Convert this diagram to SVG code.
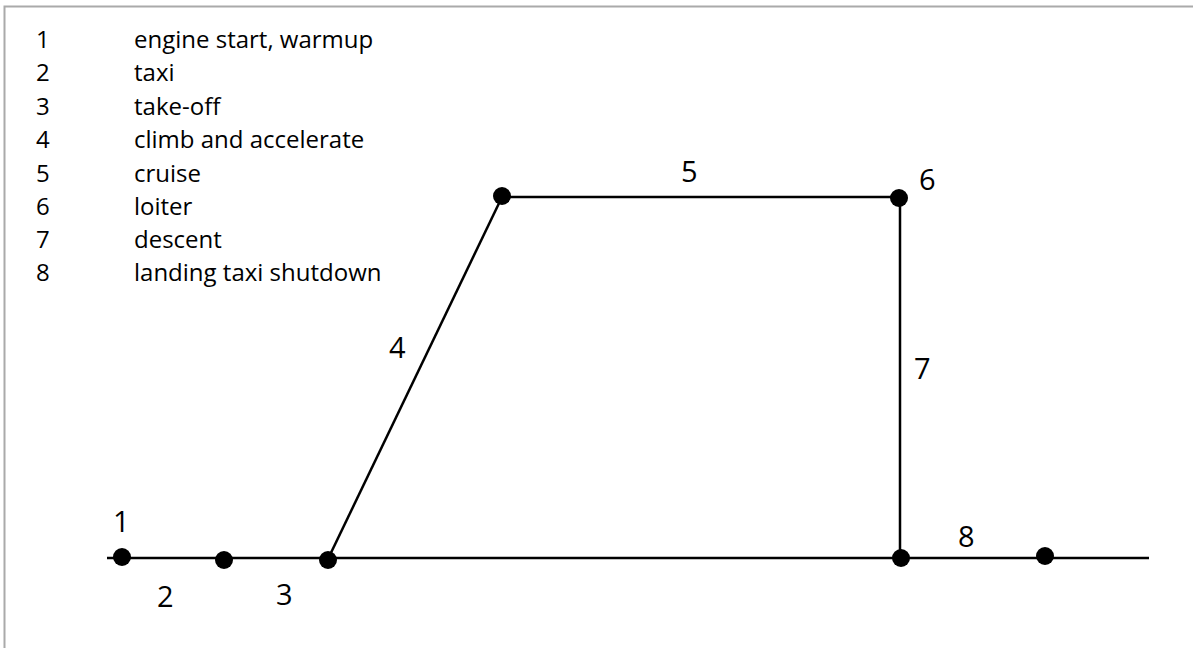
<svg xmlns="http://www.w3.org/2000/svg" width="1193" height="648" viewBox="0 0 1193 648">
<style>
.leg{font-family:"Open Sans","Liberation Sans",sans-serif;font-size:24px;fill:#000}
.lbl{font-family:"Open Sans","Liberation Sans",sans-serif;font-size:29px;fill:#000}
.ln{stroke:#000;stroke-width:2.5;fill:none}
.dot{fill:#000}
</style>
<rect width="1193" height="648" fill="#fff"/>
<path d="M4.5,648 V6.5 H1193" stroke="#aaa" stroke-width="2" fill="none"/>
<g id="legend">
<text class="leg" x="36" y="48">1</text><text class="leg" x="134" y="48">engine start, warmup</text>
<text class="leg" x="36" y="81">2</text><text class="leg" x="134" y="81">taxi</text>
<text class="leg" x="36" y="115">3</text><text class="leg" x="134" y="115">take-off</text>
<text class="leg" x="36" y="148">4</text><text class="leg" x="134" y="148">climb and accelerate</text>
<text class="leg" x="36" y="182">5</text><text class="leg" x="134" y="182">cruise</text>
<text class="leg" x="36" y="215">6</text><text class="leg" x="134" y="215">loiter</text>
<text class="leg" x="36" y="248">7</text><text class="leg" x="134" y="248">descent</text>
<text class="leg" x="36" y="281">8</text><text class="leg" x="134" y="281">landing taxi shutdown</text>
</g>
<g id="connectors">
<line class="ln" x1="107" y1="558" x2="1149" y2="558"/>
<line class="ln" x1="328" y1="559" x2="502" y2="197"/>
<line class="ln" x1="502" y1="197" x2="899" y2="197"/>
<line class="ln" x1="900" y1="197" x2="900" y2="558"/>
</g>
<g id="n1"><circle class="dot" cx="122" cy="557" r="9"/><text class="lbl" x="113" y="532">1</text></g>
<g id="n2"><circle class="dot" cx="224" cy="560" r="9"/><text class="lbl" x="157" y="607">2</text></g>
<g id="n3"><circle class="dot" cx="328" cy="560" r="9"/><text class="lbl" x="276" y="605">3</text></g>
<g id="n4"><circle class="dot" cx="502" cy="196" r="9"/><text class="lbl" x="389" y="358">4</text></g>
<g id="n5"><text class="lbl" x="681" y="182">5</text></g>
<g id="n6"><circle class="dot" cx="899" cy="198" r="9"/><text class="lbl" x="919" y="190">6</text></g>
<g id="n7"><text class="lbl" x="914" y="379">7</text></g>
<g id="n8"><circle class="dot" cx="901" cy="558" r="9"/><circle class="dot" cx="1045" cy="556" r="9"/><text class="lbl" x="958" y="547">8</text></g>
</svg>
